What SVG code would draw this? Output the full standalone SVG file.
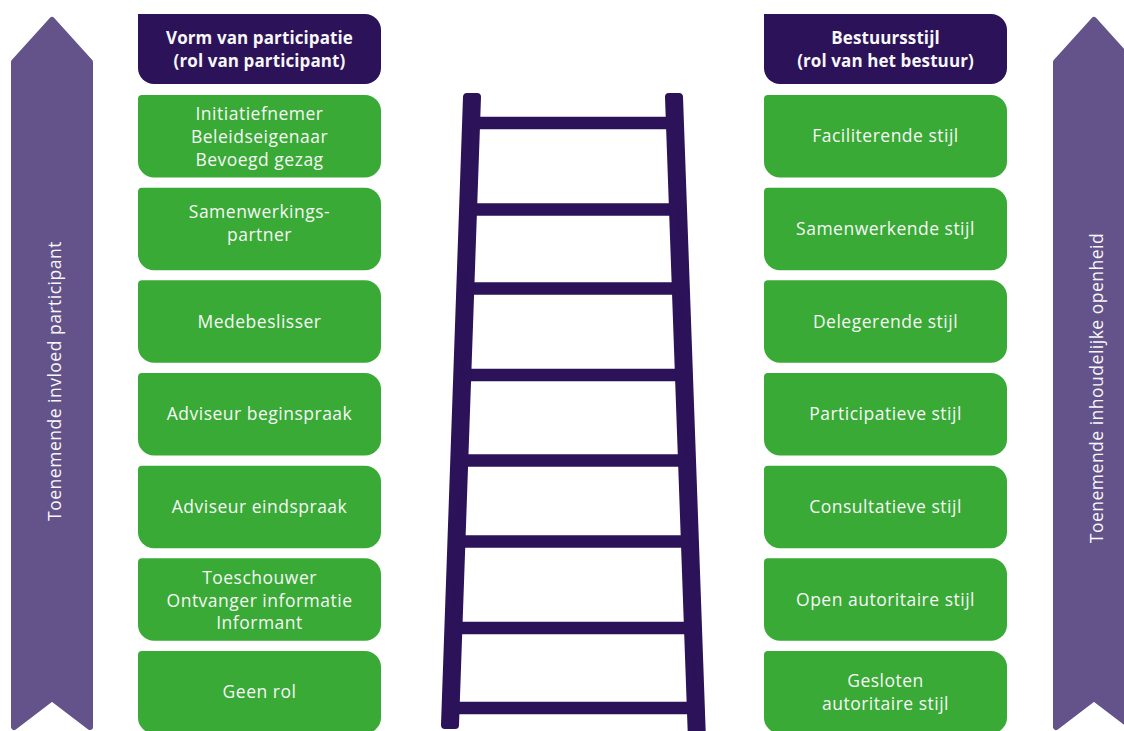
<svg xmlns="http://www.w3.org/2000/svg" xmlns:xlink="http://www.w3.org/1999/xlink" width="1124" height="731" viewBox="0 0 1124 731">
<style>
.box{fill:#38aa35}
.hdr{fill:#2b1259}
.arrow{fill:#63538a;stroke:#63538a;stroke-width:6;stroke-linejoin:round}
.rail{fill:#2b1259;stroke:#2b1259;stroke-width:8;stroke-linejoin:round}
.rung{stroke:#2b1259;stroke-width:12.5}
text{font-family:"Open Sans","Noto Sans","DejaVu Sans",sans-serif;font-size:17.5px;letter-spacing:0.5px;fill:#f7f7f7;text-anchor:middle}
.b{font-weight:bold;font-size:17px;letter-spacing:0.1px}
</style>
<defs>
<path id="gbox" d="M4,0 H227 A16,16 0 0 1 243,16 V66.5 A16,16 0 0 1 227,82.5 H16 A16,16 0 0 1 0,66.5 V4 A4,4 0 0 1 4,0 Z"/>
<path id="hbox" d="M0,0 H227 A16,16 0 0 1 243,16 V54 A16,16 0 0 1 227,70 H16 A16,16 0 0 1 0,54 Z"/>
</defs>
<g id="arrow-left">
<polygon class="arrow" points="52,20 90,62 90,727 52,698 14,727 14,62"/>
<text transform="translate(61,381) rotate(-90)">Toenemende invloed participant</text>
</g>
<g id="arrow-right">
<polygon class="arrow" points="1094,20 1132,62 1132,727 1094,698 1056,727 1056,62"/>
<text transform="translate(1103,388) rotate(-90)">Toenemende inhoudelijke openheid</text>
</g>
<g id="ladder">
<line class="rung" x1="471" y1="123" x2="675" y2="123"/>
<line class="rung" x1="468" y1="209.5" x2="678" y2="209.5"/>
<line class="rung" x1="465" y1="288.5" x2="681" y2="288.5"/>
<line class="rung" x1="462" y1="375" x2="684" y2="375"/>
<line class="rung" x1="459" y1="460.5" x2="687" y2="460.5"/>
<line class="rung" x1="456" y1="541.5" x2="690" y2="541.5"/>
<line class="rung" x1="453" y1="628" x2="692" y2="628"/>
<line class="rung" x1="451" y1="708" x2="695" y2="708"/>
<polygon class="rail" points="467,97 477,97 455,725 445,725"/>
<polygon class="rail" points="669,97 679,97 702,740 692,740"/>
</g>
<g id="header-left">
<use href="#hbox" class="hdr" x="138" y="14"/>
<text class="b" x="259.5" y="44">Vorm van participatie</text>
<text class="b" x="259.5" y="67">(rol van participant)</text>
</g>
<g id="header-right">
<use href="#hbox" class="hdr" x="764" y="14"/>
<text class="b" x="885.5" y="44">Bestuursstijl</text>
<text class="b" x="885.5" y="67">(rol van het bestuur)</text>
</g>
<g id="l1"><use href="#gbox" class="box" x="138" y="95"/>
<text x="259.5" y="120">Initiatiefnemer</text><text x="259.5" y="143">Beleidseigenaar</text><text x="259.5" y="166">Bevoegd gezag</text></g>
<g id="l2"><use href="#gbox" class="box" x="138" y="187.7"/>
<text x="259.5" y="217.5">Samenwerkings-</text><text x="259.5" y="240.5">partner</text></g>
<g id="l3"><use href="#gbox" class="box" x="138" y="280.3"/>
<text x="259.5" y="327.5">Medebeslisser</text></g>
<g id="l4"><use href="#gbox" class="box" x="138" y="373"/>
<text x="259.5" y="420">Adviseur beginspraak</text></g>
<g id="l5"><use href="#gbox" class="box" x="138" y="465.7"/>
<text x="259.5" y="513">Adviseur eindspraak</text></g>
<g id="l6"><use href="#gbox" class="box" x="138" y="558.3"/>
<text x="259.5" y="584">Toeschouwer</text><text x="259.5" y="607">Ontvanger informatie</text><text x="259.5" y="629">Informant</text></g>
<g id="l7"><use href="#gbox" class="box" x="138" y="651"/>
<text x="259.5" y="698">Geen rol</text></g>
<g id="r1"><use href="#gbox" class="box" x="764" y="95"/>
<text x="885.5" y="142">Faciliterende stijl</text></g>
<g id="r2"><use href="#gbox" class="box" x="764" y="187.7"/>
<text x="885.5" y="235">Samenwerkende stijl</text></g>
<g id="r3"><use href="#gbox" class="box" x="764" y="280.3"/>
<text x="885.5" y="327.5">Delegerende stijl</text></g>
<g id="r4"><use href="#gbox" class="box" x="764" y="373"/>
<text x="885.5" y="420">Participatieve stijl</text></g>
<g id="r5"><use href="#gbox" class="box" x="764" y="465.7"/>
<text x="885.5" y="513">Consultatieve stijl</text></g>
<g id="r6"><use href="#gbox" class="box" x="764" y="558.3"/>
<text x="885.5" y="606">Open autoritaire stijl</text></g>
<g id="r7"><use href="#gbox" class="box" x="764" y="651"/>
<text x="885.5" y="686.5">Gesloten</text><text x="885.5" y="709.5">autoritaire stijl</text></g>
</svg>
